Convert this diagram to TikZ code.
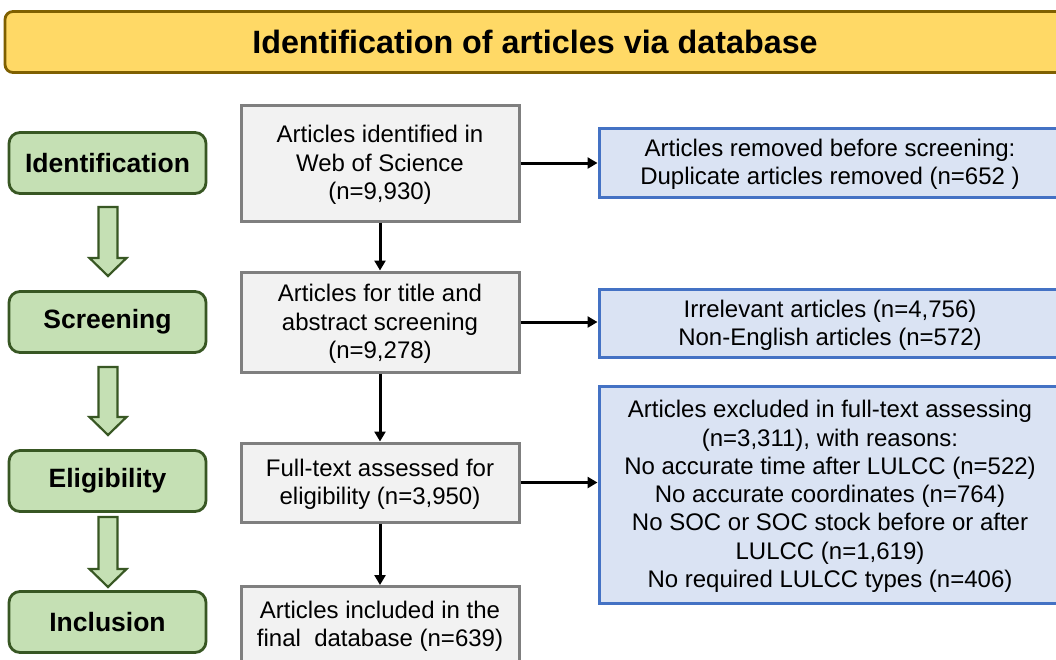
\documentclass[tikz,border=0pt]{standalone}
\usepackage{fontspec}
\setmainfont{Liberation Sans}
\usetikzlibrary{arrows.meta}
\definecolor{titlefill}{HTML}{FFD966}
\definecolor{titledraw}{HTML}{7F6000}
\definecolor{stagefill}{HTML}{C5E0B4}
\definecolor{stagedraw}{HTML}{385723}
\definecolor{grayfill}{HTML}{F2F2F2}
\definecolor{graydraw}{HTML}{7F7F7F}
\definecolor{bluefill}{HTML}{DAE3F3}
\definecolor{bluedraw}{HTML}{4472C4}
\newcommand{\lowtext}[1]{\raisebox{-2.5pt}[\height][\depth]{\begin{tabular}{@{}c@{}}#1\end{tabular}}}
\tikzset{
  titlebox/.style={draw=titledraw, fill=titlefill, line width=2.8pt, rounded corners=8pt,
    minimum width=1060pt, minimum height=61pt, inner sep=0pt,
    font=\fontsize{32.3}{36}\selectfont\bfseries},
  stagebox/.style={draw=stagedraw, fill=stagefill, line width=2.8pt, rounded corners=11pt,
    minimum width=197pt, minimum height=61pt, inner sep=0pt,
    font=\fontsize{26.5}{30}\selectfont\bfseries},
  graybox/.style={draw=graydraw, fill=grayfill, line width=3pt,
    minimum width=278pt, inner sep=0pt,
    font=\fontsize{24}{28.3}\selectfont},
  bluebox/.style={draw=bluedraw, fill=bluefill, line width=3pt,
    minimum width=462pt, inner sep=0pt,
    font=\fontsize{24}{28.3}\selectfont},
  flow/.style={line width=3pt, -{Triangle[length=10pt,width=11pt]}},
  blockarrow/.style={draw=stagedraw, fill=stagefill, line width=2.2pt},
}
\newcommand{\blockarr}[3]{% x center, top y, tip y
  \draw[blockarrow] (#1-9.5,#2) -- (#1+9.5,#2) -- (#1+9.5,#3-18) -- (#1+18.5,#3-18)
    -- (#1,#3) -- (#1-18.5,#3-18) -- (#1-9.5,#3-18) -- cycle;}
\begin{document}
\begin{tikzpicture}[x=1pt,y=-1pt]
\useasboundingbox (0,0) rectangle (1056,659);
\fill[white] (0,0) rectangle (1056,659);

\node[titlebox] (title) at (535,42) {\raisebox{-1pt}{Identification of articles via database}};

\node[stagebox] (sid) at (107.5,163) {\raisebox{-1pt}{Identification}};
\node[stagebox] (ssc) at (107.5,322) {\raisebox{-1pt}{Screening}};
\node[stagebox] (sel) at (107.5,481) {\raisebox{-1pt}{Eligibility}};
\node[stagebox] (sin) at (107.5,622) {\raisebox{-1pt}{Inclusion}};

\blockarr{108}{207}{276}
\blockarr{108}{367}{435}
\blockarr{108}{517}{587}

\node[graybox, minimum height=116pt] (g1) at (380,163) {\lowtext{Articles identified in\\Web of Science\\(n=9,930)}};
\node[graybox, minimum height=100pt] (g2) at (380,322) {\lowtext{Articles for title and\\abstract screening\\(n=9,278)}};
\node[graybox, minimum height=79pt] (g3) at (380,482.5) {\lowtext{Full-text assessed for\\eligibility (n=3,950)}};
\node[graybox, minimum height=80pt, anchor=north] (g4) at (380,585) {};
\node[font=\fontsize{24}{28.3}\selectfont, inner sep=0pt] (g4t) at (380,624) {\lowtext{Articles included in the\\final\ \ database (n=639)}};

\node[bluebox, minimum height=69pt] (b1) at (830,162.5) {\lowtext{Articles removed before screening:\\Duplicate articles removed (n=652 )}};
\node[bluebox, minimum height=68pt] (b2) at (830,323) {\lowtext{Irrelevant articles (n=4,756)\\Non-English articles (n=572)}};
\node[bluebox, minimum height=217pt] (b3) at (830,494.5) {\lowtext{Articles excluded in full-text assessing\\(n=3,311), with reasons:\\No accurate time after LULCC (n=522)\\No accurate coordinates (n=764)\\No SOC or SOC stock before or after\\LULCC (n=1,619)\\No required LULCC types (n=406)}};

\draw[flow] (g1.east) -- (g1.east -| b1.west);
\draw[flow] (g2.east) -- (g2.east -| b2.west);
\draw[flow] (g3.east) -- (g3.east -| b3.west);
\draw[flow] (g1.south) -- (g2.north);
\draw[flow] (g2.south) -- (g3.north);
\draw[flow] (g3.south) -- (g4.north);
\end{tikzpicture}
\end{document}
